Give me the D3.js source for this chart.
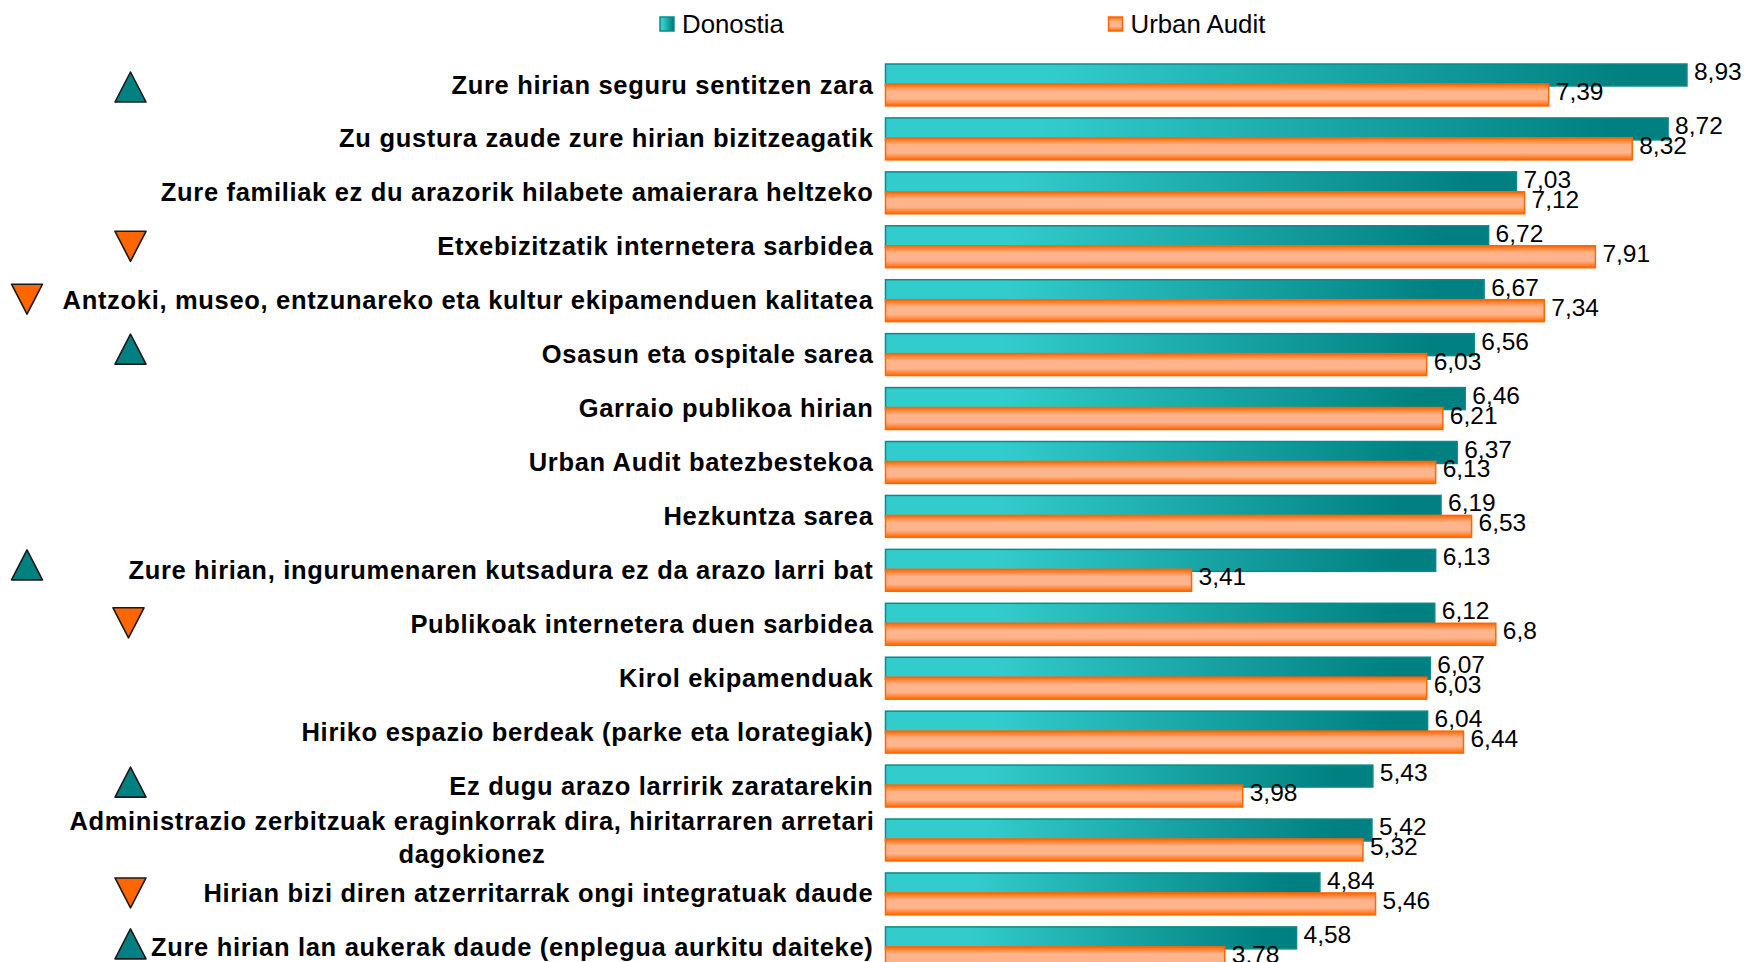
<!DOCTYPE html>
<html><head><meta charset="utf-8">
<script src="https://cdn.jsdelivr.net/npm/d3@7"></script>
<style>html,body{margin:0;padding:0;background:#fff;overflow:hidden}svg{display:block}text{font-family:"Liberation Sans",Arial,sans-serif;fill:#000}</style>
</head><body><svg id="c" width="1744" height="962"></svg>
<script>
const categories = [
"Zure hirian seguru sentitzen zara","Zu gustura zaude zure hirian bizitzeagatik","Zure familiak ez du arazorik hilabete amaierara heltzeko","Etxebizitzatik internetera sarbidea","Antzoki, museo, entzunareko eta kultur ekipamenduen kalitatea","Osasun eta ospitale sarea","Garraio publikoa hirian","Urban Audit batezbestekoa","Hezkuntza sarea","Zure hirian, ingurumenaren kutsadura ez da arazo larri bat","Publikoak internetera duen sarbidea","Kirol ekipamenduak","Hiriko espazio berdeak (parke eta lorategiak)","Ez dugu arazo larririk zaratarekin","Administrazio zerbitzuak eraginkorrak dira, hiritarraren arretari|dagokionez","Hirian bizi diren atzerritarrak ongi integratuak daude","Zure hirian lan aukerak daude (enplegua aurkitu daiteke)"];
const seriesNames = ["Donostia","Urban Audit"];
const donostia = [8.93,8.72,7.03,6.72,6.67,6.56,6.46,6.37,6.19,6.13,6.12,6.07,6.04,5.43,5.42,4.84,4.58];
const urbanAudit = [7.39,8.32,7.12,7.91,7.34,6.03,6.21,6.13,6.53,3.41,6.8,6.03,6.44,3.98,5.32,5.46,3.78];
const markerDirection = ["up",null,null,"down","down","up",null,null,null,"up","down",null,null,"up",null,"down","up"];
const markerColumn = ["near",null,null,"near","far","near",null,null,null,"far","near",null,null,"near",null,"near","near"];

const svg = d3.select("#c");
const defs = svg.append("defs");
const tg = defs.append("linearGradient").attr("id","teal").attr("x1",0).attr("x2",1).attr("y1",0).attr("y2",0);
tg.append("stop").attr("offset","0").attr("stop-color","#33cccc");
tg.append("stop").attr("offset","0.2").attr("stop-color","#33cccc");
tg.append("stop").attr("offset","0.93").attr("stop-color","#008080");
tg.append("stop").attr("offset","1").attr("stop-color","#008080");
const og = defs.append("linearGradient").attr("id","orange").attr("x1",0).attr("x2",0).attr("y1",0).attr("y2",1);
[[0,"#ff6600"],[0.32,"#ffb48c"],[0.68,"#ffb48c"],[1,"#ff6600"]].forEach(s=>og.append("stop").attr("offset",s[0]).attr("stop-color",s[1]));

const step = 53.93, top0 = 64;
const y = d3.scaleBand().domain(categories).range([top0, top0 + step*categories.length - 12]).paddingInner(12/step).paddingOuter(0);
const ySeries = d3.scaleBand().domain(seriesNames).range([0, y.bandwidth()]).paddingInner(-0.1);
const x = d3.scaleLinear().domain([0,10]).range([885.5,1783]);
const markerX = d3.scaleOrdinal().domain(["near","far"]).range([130.5,27]);

const series = [
 {name:seriesNames[0], values:donostia, fill:"url(#teal)", stroke:"#0a8a8a"},
 {name:seriesNames[1], values:urbanAudit, fill:"url(#orange)", stroke:"#ff6600"}];

series.forEach(s=>{
  svg.append("g").selectAll("rect").data(s.values).join("rect")
    .attr("x",x(0)).attr("y",(d,i)=>y(categories[i])+ySeries(s.name))
    .attr("width",d=>x(d)-x(0)).attr("height",ySeries.bandwidth())
    .attr("fill",s.fill).attr("stroke",s.stroke).attr("stroke-width",1.5);
});
series.forEach(s=>{
  svg.append("g").selectAll("text").data(s.values).join("text")
    .attr("x",d=>x(d)+7).attr("y",(d,i)=>y(categories[i])+ySeries(s.name)+ySeries.bandwidth()/2-3.8)
    .attr("dy","0.36em").attr("font-size",24.5).text(d=>String(d).replace(".",","));
});

// category axis
const axis = d3.axisLeft(y).tickSize(0).tickPadding(0);
const ag = svg.append("g").attr("transform","translate(873.5,0.4)").call(axis);
ag.select(".domain").remove();
ag.selectAll("text").attr("font-size",25.5).attr("font-weight","bold").attr("letter-spacing","0.68px")
  .style("font-family",'"Liberation Sans",Arial,sans-serif').attr("fill","#000")
  .each(function(d){
    const t=d3.select(this), parts=d.split("|");
    if(parts.length===1){t.text(d);return;}
    t.text(null).attr("text-anchor","middle");
    parts.forEach((p,i)=>t.append("tspan").attr("x",-401.5).attr("dy",i?"1.32em":"-0.42em").text(p));
  });

// hand-placed annotation markers: vertical / horizontal nudge per row index
const markerNudgeY = {0:0,3:-2.5,4:-3.5,5:-7.5,9:-7.5,10:-3.5,13:-6,15:-3,16:-6};
const markerNudgeX = {10:-2};
markerDirection.forEach((m,i)=>{
  if(!m) return;
  const cy = y(categories[i]) + 23 + markerNudgeY[i];
  const h=30,w=31;
  const path = m==="up" ? [[0,-h/2],[w/2,h/2],[-w/2,h/2]] : [[-w/2,-h/2],[w/2,-h/2],[0,h/2]];
  svg.append("path").attr("d",d3.line()(path)+"Z")
    .attr("transform",`translate(${markerX(markerColumn[i])+(markerNudgeX[i]||0)},${cy})`)
    .attr("fill",m==="up"?"#008080":"#ff6600").attr("stroke","#1a1a1a").attr("stroke-width",1.6).attr("stroke-linejoin","round");
});

// legend
const legendX = d3.scaleOrdinal().domain(seriesNames).range([660,1108.5]);
const lg = svg.append("g").selectAll("g").data(series).join("g").attr("transform",d=>`translate(${legendX(d.name)},17)`);
lg.append("rect").attr("width",14).attr("height",14).attr("fill",d=>d.fill).attr("stroke",d=>d.stroke).attr("stroke-width",1.5);
lg.append("text").attr("x",22).attr("y",6.5).attr("dy","0.36em").attr("font-size",25.8).text(d=>d.name);
</script></body></html>
